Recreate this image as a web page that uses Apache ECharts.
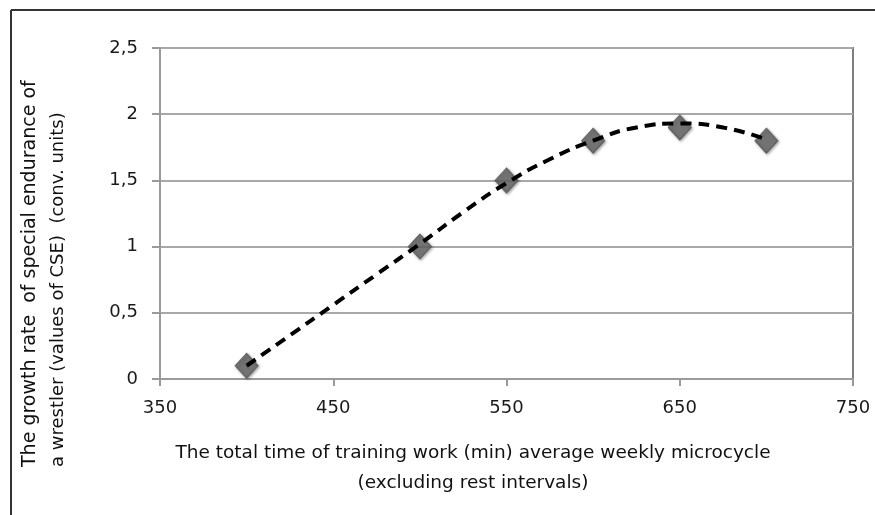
<!DOCTYPE html>
<html>
<head>
<meta charset="utf-8">
<script src="https://cdn.jsdelivr.net/npm/echarts@6/dist/echarts.min.js"></script>
<style>
html,body{margin:0;padding:0;background:#fff;}
#chart{width:875px;height:515px;}
</style>
</head>
<body>
<div id="chart"></div>
<script>
// Observed data points
const pointX = [400, 500, 550, 600, 650, 700];
const pointY = [0.1, 1.0, 1.5, 1.8, 1.9, 1.8];
// Dashed trendline
const trendX = [400, 425, 450, 475, 500, 525, 550, 575, 600, 625, 650, 675, 700];
const trendY = [0.1, 0.33, 0.56, 0.79, 1.02, 1.26, 1.48, 1.66, 1.80, 1.90, 1.93, 1.90, 1.81];
// Axis ticks
const xTicks = [350, 450, 550, 650, 750];
const yTicks = [0, 0.5, 1, 1.5, 2, 2.5];
const xTitle = ['The total time of training work (min) average weekly microcycle', '(excluding rest intervals)'];
const yTitle = ['The growth rate  of special endurance of', 'a wrestler (values of CSE)  (conv. units)'];

const FONT = 'DejaVu Sans';
const chart = echarts.init(document.getElementById('chart'), null, {renderer: 'canvas'});
const points = pointX.map((x, i) => [x, pointY[i]]);
const trend = trendX.map((x, i) => [x, trendY[i]]);

chart.setOption({
  animation: false,
  backgroundColor: '#ffffff',
  grid: {
    left: 160, right: 22, top: 48, bottom: 136,
    show: true, borderColor: '#7f7f7f', borderWidth: 2, backgroundColor: 'transparent'
  },
  xAxis: {
    type: 'value',
    min: xTicks[0], max: xTicks[xTicks.length - 1], interval: 100,
    axisLine: {show: true, onZero: false, lineStyle: {color: '#9a9a9a', width: 2}},
    axisTick: {show: true, length: 7, lineStyle: {color: '#9a9a9a', width: 2}},
    axisLabel: {color: '#1a1a1a', fontFamily: FONT, fontSize: 18, margin: 20},
    splitLine: {show: false}
  },
  yAxis: {
    type: 'value',
    min: yTicks[0], max: yTicks[yTicks.length - 1], interval: 0.5,
    axisLine: {show: true, lineStyle: {color: '#9a9a9a', width: 2}},
    axisTick: {show: true, length: 8, lineStyle: {color: '#9a9a9a', width: 2}},
    axisLabel: {color: '#1a1a1a', fontFamily: FONT, fontSize: 18, margin: 22,
      formatter: v => String(v).replace('.', ',')},
    splitLine: {show: true, lineStyle: {color: '#a8a8a8', width: 2}}
  },
  series: [
    {
      type: 'scatter',
      data: points,
      symbol: 'diamond',
      symbolSize: [23, 25],
      itemStyle: {color: '#666666', borderColor: '#555555', borderWidth: 1,
        shadowBlur: 3, shadowColor: 'rgba(0,0,0,0.45)', shadowOffsetX: 1, shadowOffsetY: 1},
      z: 2
    },
    {
      type: 'line',
      data: trend,
      smooth: true,
      showSymbol: false,
      symbol: 'none',
      lineStyle: {color: '#000000', width: 4, type: [11, 7]},
      z: 3
    }
  ],
  graphic: [
    {type: 'line', shape: {x1: 11, y1: 10, x2: 875, y2: 10}, style: {stroke: '#333', lineWidth: 2}},
    {type: 'line', shape: {x1: 11, y1: 10, x2: 11, y2: 515}, style: {stroke: '#333', lineWidth: 2}},
    {type: 'text', x: 473, y: 453, style: {text: xTitle[0], fill: '#111', font: '18.5px "' + FONT + '"', align: 'center', verticalAlign: 'middle'}},
    {type: 'text', x: 473, y: 483, style: {text: xTitle[1], fill: '#111', font: '18.5px "' + FONT + '"', align: 'center', verticalAlign: 'middle'}},
    {type: 'text', x: 30, y: 467, rotation: Math.PI / 2, style: {text: yTitle[0], fill: '#111', font: '19px "' + FONT + '"', align: 'left', verticalAlign: 'middle'}},
    {type: 'text', x: 58, y: 467, rotation: Math.PI / 2, style: {text: yTitle[1], fill: '#111', font: '18px "' + FONT + '"', align: 'left', verticalAlign: 'middle'}}
  ]
});
</script>
</body>
</html>
